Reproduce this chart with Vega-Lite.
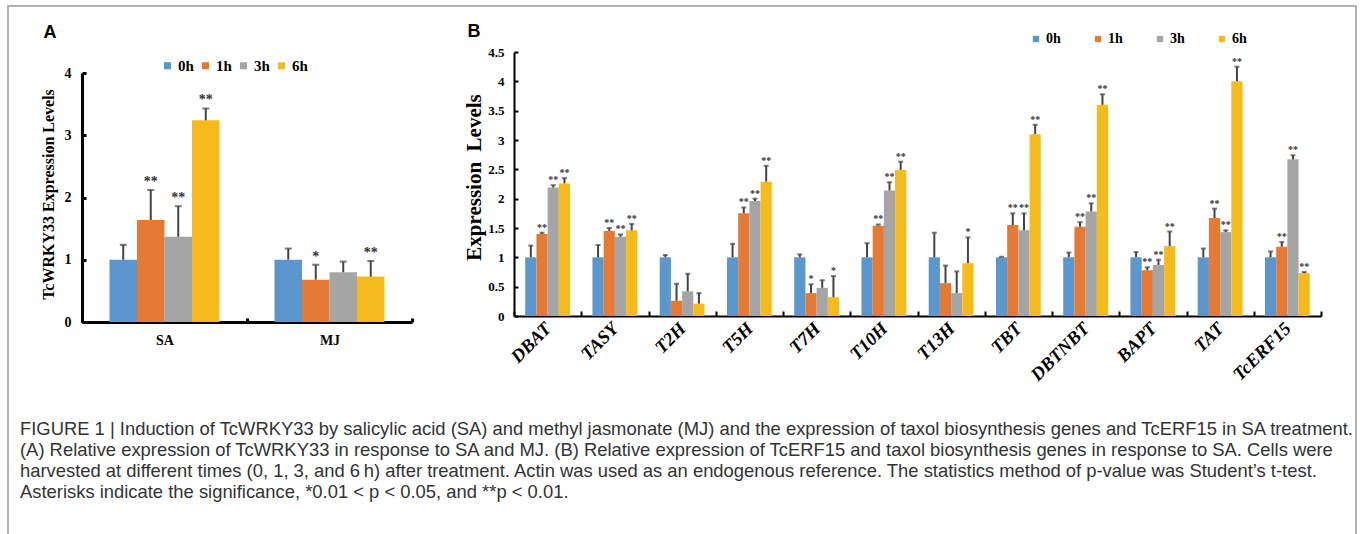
{
  "$schema": "https://vega.github.io/schema/vega-lite/v6.json",
  "width": 1348,
  "height": 530,
  "autosize": {"type": "none"},
  "padding": {"left": 8, "top": 6, "right": 4, "bottom": 0},
  "background": "white",
  "config": {
    "view": {"stroke": "#999999", "strokeWidth": 1.5},
    "axis": {"grid": false, "labelColor": "#000", "domainColor": "#000", "tickColor": "#000", "titleColor": "#000"}
  },
  "title": {
    "text": [
      "FIGURE 1 | Induction of TcWRKY33 by salicylic acid (SA) and methyl jasmonate (MJ) and the expression of taxol biosynthesis genes and TcERF15 in SA treatment.",
      "(A) Relative expression of TcWRKY33 in response to SA and MJ. (B) Relative expression of TcERF15 and taxol biosynthesis genes in response to SA. Cells were",
      "harvested at different times (0, 1, 3, and 6\u2009h) after treatment. Actin was used as an endogenous reference. The statistics method of p-value was Student\u2019s t-test.",
      "Asterisks indicate the significance, *0.01 < p < 0.05, and **p < 0.01."
    ],
    "orient": "bottom",
    "anchor": "start",
    "frame": "group",
    "offset": -116,
    "dx": 12,
    "font": "Liberation Sans",
    "fontSize": 18.4,
    "fontWeight": "normal",
    "color": "#333333",
    "lineHeight": 21
  },
  "datasets": {
    "a": [
      {"group": "SA", "time": "0h", "value": 1.0, "err": 1.24, "sig": ""},
      {"group": "SA", "time": "1h", "value": 1.64, "err": 2.12, "sig": "**"},
      {"group": "SA", "time": "3h", "value": 1.37, "err": 1.86, "sig": "**"},
      {"group": "SA", "time": "6h", "value": 3.24, "err": 3.43, "sig": "**"},
      {"group": "MJ", "time": "0h", "value": 1.0, "err": 1.18, "sig": ""},
      {"group": "MJ", "time": "1h", "value": 0.68, "err": 0.92, "sig": "*"},
      {"group": "MJ", "time": "3h", "value": 0.8, "err": 0.97, "sig": ""},
      {"group": "MJ", "time": "6h", "value": 0.73, "err": 0.98, "sig": "**"}
    ],
    "b": [
      {"gene": "DBAT", "time": "0h", "value": 1.0, "err": 1.2, "sig": ""},
      {"gene": "DBAT", "time": "1h", "value": 1.4, "err": 1.42, "sig": "**"},
      {"gene": "DBAT", "time": "3h", "value": 2.19, "err": 2.23, "sig": "**"},
      {"gene": "DBAT", "time": "6h", "value": 2.26, "err": 2.35, "sig": "**"},
      {"gene": "TASY", "time": "0h", "value": 1.0, "err": 1.21, "sig": ""},
      {"gene": "TASY", "time": "1h", "value": 1.45, "err": 1.5, "sig": "**"},
      {"gene": "TASY", "time": "3h", "value": 1.35, "err": 1.39, "sig": "**"},
      {"gene": "TASY", "time": "6h", "value": 1.46, "err": 1.57, "sig": "**"},
      {"gene": "T2H", "time": "0h", "value": 1.0, "err": 1.04, "sig": ""},
      {"gene": "T2H", "time": "1h", "value": 0.26, "err": 0.55, "sig": ""},
      {"gene": "T2H", "time": "3h", "value": 0.42, "err": 0.72, "sig": ""},
      {"gene": "T2H", "time": "6h", "value": 0.21, "err": 0.39, "sig": ""},
      {"gene": "T5H", "time": "0h", "value": 1.0, "err": 1.23, "sig": ""},
      {"gene": "T5H", "time": "1h", "value": 1.75, "err": 1.85, "sig": "**"},
      {"gene": "T5H", "time": "3h", "value": 1.96, "err": 2.0, "sig": "**"},
      {"gene": "T5H", "time": "6h", "value": 2.29, "err": 2.56, "sig": "**"},
      {"gene": "T7H", "time": "0h", "value": 1.0, "err": 1.05, "sig": ""},
      {"gene": "T7H", "time": "1h", "value": 0.39, "err": 0.54, "sig": "*"},
      {"gene": "T7H", "time": "3h", "value": 0.48, "err": 0.61, "sig": ""},
      {"gene": "T7H", "time": "6h", "value": 0.32, "err": 0.68, "sig": "*"},
      {"gene": "T10H", "time": "0h", "value": 1.0, "err": 1.24, "sig": ""},
      {"gene": "T10H", "time": "1h", "value": 1.54, "err": 1.56, "sig": "**"},
      {"gene": "T10H", "time": "3h", "value": 2.14, "err": 2.28, "sig": "**"},
      {"gene": "T10H", "time": "6h", "value": 2.49, "err": 2.63, "sig": "**"},
      {"gene": "T13H", "time": "0h", "value": 1.0, "err": 1.42, "sig": ""},
      {"gene": "T13H", "time": "1h", "value": 0.56, "err": 0.86, "sig": ""},
      {"gene": "T13H", "time": "3h", "value": 0.39, "err": 0.76, "sig": ""},
      {"gene": "T13H", "time": "6h", "value": 0.9, "err": 1.34, "sig": "*"},
      {"gene": "TBT", "time": "0h", "value": 1.0, "err": 1.01, "sig": ""},
      {"gene": "TBT", "time": "1h", "value": 1.55, "err": 1.75, "sig": "**"},
      {"gene": "TBT", "time": "3h", "value": 1.46, "err": 1.75, "sig": "**"},
      {"gene": "TBT", "time": "6h", "value": 3.1, "err": 3.26, "sig": "**"},
      {"gene": "DBTNBT", "time": "0h", "value": 1.0, "err": 1.08, "sig": ""},
      {"gene": "DBTNBT", "time": "1h", "value": 1.52, "err": 1.6, "sig": "**"},
      {"gene": "DBTNBT", "time": "3h", "value": 1.78, "err": 1.92, "sig": "**"},
      {"gene": "DBTNBT", "time": "6h", "value": 3.6, "err": 3.78, "sig": "**"},
      {"gene": "BAPT", "time": "0h", "value": 1.0, "err": 1.09, "sig": ""},
      {"gene": "BAPT", "time": "1h", "value": 0.78, "err": 0.83, "sig": "**"},
      {"gene": "BAPT", "time": "3h", "value": 0.87, "err": 0.96, "sig": "**"},
      {"gene": "BAPT", "time": "6h", "value": 1.19, "err": 1.44, "sig": "**"},
      {"gene": "TAT", "time": "0h", "value": 1.0, "err": 1.15, "sig": ""},
      {"gene": "TAT", "time": "1h", "value": 1.67, "err": 1.83, "sig": "**"},
      {"gene": "TAT", "time": "3h", "value": 1.43, "err": 1.46, "sig": "**"},
      {"gene": "TAT", "time": "6h", "value": 4.0, "err": 4.25, "sig": "**"},
      {"gene": "TcERF15", "time": "0h", "value": 1.0, "err": 1.1, "sig": ""},
      {"gene": "TcERF15", "time": "1h", "value": 1.18, "err": 1.26, "sig": "**"},
      {"gene": "TcERF15", "time": "3h", "value": 2.67, "err": 2.74, "sig": "**"},
      {"gene": "TcERF15", "time": "6h", "value": 0.73, "err": 0.75, "sig": "**"}
    ]
  },
  "layer": [
    {
      "data": {"name": "a"},
      "encoding": {
        "x": {
          "field": "group", "type": "nominal",
          "scale": {"domain": ["SA", "MJ"], "range": [74, 404], "paddingInner": 0, "paddingOuter": 0},
          "axis": {
            "orient": "bottom", "offset": -214, "domainWidth": 3, "tickBand": "extent", "tickSize": -4, "tickWidth": 3,
            "labelPadding": 15, "labelAngle": 0, "labelFont": "Liberation Serif", "labelFontWeight": "bold", "labelFontSize": 14,
            "title": "A", "titleX": 35, "titleY": -285, "titleAlign": "left", "titleBaseline": "alphabetic", "titleAngle": 0,
            "titleFont": "Liberation Sans", "titleFontSize": 18, "titleFontWeight": "bold"
          }
        },
        "xOffset": {"field": "time", "type": "nominal", "scale": {"domain": ["0h", "1h", "3h", "6h"], "paddingOuter": 1.1, "paddingInner": 0}}
      },
      "layer": [
        {
          "mark": {"type": "bar"},
          "encoding": {
            "y": {
              "field": "value", "type": "quantitative",
              "scale": {"domain": [0, 4], "range": [316, 67], "nice": false, "zero": true},
              "axis": {
                "orient": "left", "offset": -74, "values": [0, 1, 2, 3, 4], "format": "d", "domainWidth": 3, "tickSize": -4, "tickWidth": 3,
                "labelPadding": 15, "labelFont": "Liberation Serif", "labelFontWeight": "bold", "labelFontSize": 14,
                "title": "TcWRKY33 Expression Levels", "titleX": -34, "titleY": 188, "titleAngle": -90,
                "titleAlign": "center", "titleBaseline": "middle",
                "titleFont": "Liberation Serif", "titleFontSize": 16, "titleFontWeight": "bold"
              }
            },
            "color": {
              "field": "time", "type": "nominal",
              "scale": {"domain": ["0h", "1h", "3h", "6h"], "range": ["#5b96cd", "#e57a35", "#a5a5a5", "#f5bb1c"]},
              "legend": {
                "orient": "none", "legendX": 152, "legendY": 52, "direction": "horizontal", "title": null,
                "symbolType": "square", "symbolSize": 50, "symbolStrokeWidth": 0, "padding": 0,
                "labelFont": "Liberation Serif", "labelFontWeight": "bold", "labelFontSize": 15, "labelColor": "#000",
                "labelOffset": 3, "columnPadding": 4
              }
            }
          }
        },
        {
          "mark": {"type": "rule", "color": "#444444", "strokeWidth": 2},
          "encoding": {
            "y": {"field": "value", "type": "quantitative"},
            "y2": {"field": "err"}
          }
        },
        {
          "mark": {"type": "tick", "orient": "horizontal", "color": "#444444", "size": 7, "thickness": 2},
          "encoding": {"y": {"field": "err", "type": "quantitative"}}
        },
        {
          "mark": {"type": "text", "font": "Liberation Serif", "fontWeight": "bold", "fontSize": 14, "baseline": "bottom", "dy": -1, "color": "#333333"},
          "encoding": {
            "y": {"field": "err", "type": "quantitative"},
            "text": {"field": "sig"}
          }
        }
      ]
    },
    {
      "data": {"name": "b"},
      "encoding": {
        "x": {
          "field": "gene", "type": "nominal",
          "scale": {"domain": ["DBAT", "TASY", "T2H", "T5H", "T7H", "T10H", "T13H", "TBT", "DBTNBT", "BAPT", "TAT", "TcERF15"], "range": [506, 1313], "paddingInner": 0, "paddingOuter": 0},
          "axis": {
            "orient": "bottom", "offset": -220, "domainWidth": 2, "tickBand": "extent", "tickSize": -5, "tickWidth": 2,
            "labelPadding": 14, "labelAngle": -45, "labelAlign": "right", "labelBaseline": "middle",
            "labelFont": "Liberation Serif", "labelFontWeight": "bold", "labelFontStyle": "italic", "labelFontSize": 18.5,
            "title": "B", "titleX": 459, "titleY": -280, "titleAlign": "left", "titleBaseline": "alphabetic", "titleAngle": 0,
            "titleFont": "Liberation Sans", "titleFontSize": 18, "titleFontWeight": "bold"
          }
        },
        "xOffset": {"field": "time", "type": "nominal", "scale": {"domain": ["0h", "1h", "3h", "6h"], "paddingOuter": 1.1, "paddingInner": 0}}
      },
      "layer": [
        {
          "mark": {"type": "bar"},
          "encoding": {
            "y": {
              "field": "value", "type": "quantitative",
              "scale": {"domain": [0, 4.5], "range": [310, 46], "nice": false, "zero": true},
              "axis": {
                "orient": "left", "offset": -506, "values": [0, 0.5, 1, 1.5, 2, 2.5, 3, 3.5, 4, 4.5], "format": "~g",
                "domainWidth": 2, "tickSize": -4, "tickWidth": 2,
                "labelPadding": 14, "labelFont": "Liberation Serif", "labelFontWeight": "bold", "labelFontSize": 13,
                "title": "Expression\u00a0 Levels", "titleX": -40, "titleY": 171, "titleAngle": -90,
                "titleAlign": "center", "titleBaseline": "middle",
                "titleFont": "Liberation Serif", "titleFontSize": 21, "titleFontWeight": "bold"
              }
            },
            "color": {
              "field": "time", "type": "nominal",
              "scale": {"domain": ["0h", "1h", "3h", "6h"], "range": ["#5b96cd", "#e57a35", "#a5a5a5", "#f5bb1c"]},
              "legend": {
                "orient": "none", "legendX": 1021, "legendY": 26, "direction": "horizontal", "title": null,
                "symbolType": "square", "symbolSize": 40, "symbolStrokeWidth": 0, "padding": 0,
                "labelFont": "Liberation Serif", "labelFontWeight": "bold", "labelFontSize": 14, "labelColor": "#000",
                "labelOffset": 3, "columnPadding": 30
              }
            }
          }
        },
        {
          "mark": {"type": "rule", "color": "#444444", "strokeWidth": 2},
          "encoding": {
            "y": {"field": "value", "type": "quantitative"},
            "y2": {"field": "err"}
          }
        },
        {
          "mark": {"type": "tick", "orient": "horizontal", "color": "#444444", "size": 5, "thickness": 2},
          "encoding": {"y": {"field": "err", "type": "quantitative"}}
        },
        {
          "mark": {"type": "text", "font": "Liberation Serif", "fontWeight": "bold", "fontSize": 10, "baseline": "bottom", "dy": 0, "color": "#333333"},
          "encoding": {
            "y": {"field": "err", "type": "quantitative"},
            "text": {"field": "sig"}
          }
        }
      ]
    }
  ],
  "resolve": {"scale": {"x": "independent", "y": "independent", "xOffset": "independent", "color": "independent"}}
}
